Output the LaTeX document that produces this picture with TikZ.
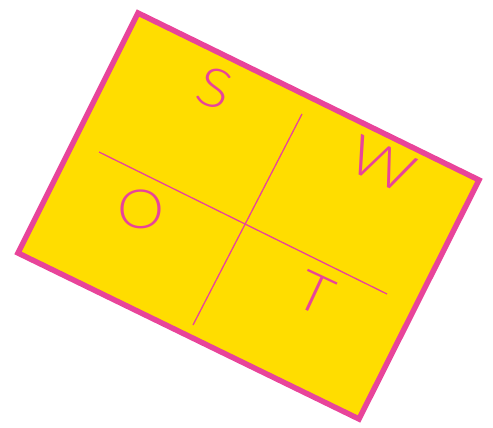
\documentclass[tikz,border=0pt]{standalone}
\usepackage{fontspec}
\usepackage{tikz}
\IfFontExistsTF{Lato Light}{\newfontfamily\handfont{Lato Light}}{\newfontfamily\handfont{Lato}}
\definecolor{SwotYellow}{HTML}{FFDD00}
\definecolor{SwotPink}{HTML}{E8449A}

\begin{document}
\begin{tikzpicture}[x=1pt,y=-1pt,
  letter/.style={SwotPink,inner sep=0pt,font=\handfont\fontsize{54}{54}\selectfont}]
  \useasboundingbox (0,0) rectangle (493,428);
  \coordinate (top) at (138,13);
  \coordinate (right) at (479,180);
  \coordinate (bottom) at (359,419);
  \coordinate (left) at (18,253);
  \filldraw[fill=SwotYellow,draw=SwotPink,line width=5.5pt] (top) -- (right) -- (bottom) -- (left) -- cycle;
  \draw[SwotPink,line width=1.3pt] (99,152) -- (387,294);
  \draw[SwotPink,line width=1.3pt] (302,114) -- (193,325);
  \node[letter,rotate=-20,xscale=1.15] (s) at (215,88) {S};
  \node[letter,rotate=-24,xscale=1.2] (w) at (382,164) {W};
  \node[letter,xscale=1.1] (o) at (141,209) {O};
  \node[letter,rotate=-25,xscale=1.1] (t) at (315,293) {T};
\end{tikzpicture}
\end{document}
